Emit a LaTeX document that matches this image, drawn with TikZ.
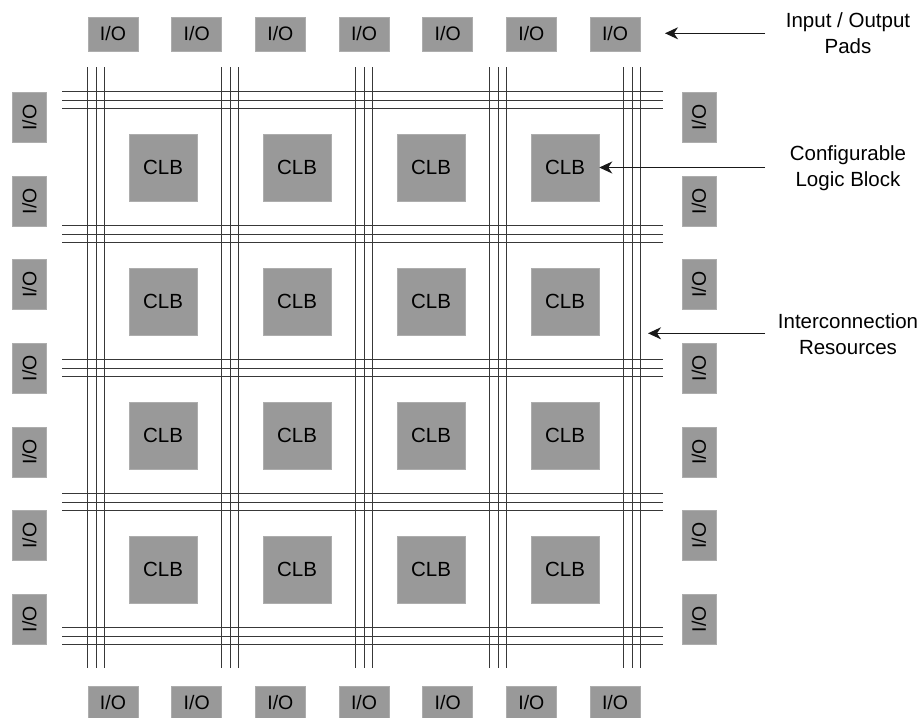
\documentclass[tikz,border=0pt]{standalone}
\usepackage{fontspec}
\setmainfont{Liberation Sans}
\usetikzlibrary{arrows.meta}
\definecolor{padgray}{HTML}{999999}
\definecolor{wirecol}{HTML}{383838}
\begin{document}
\begin{tikzpicture}[x=1pt,y=-1pt,
  pad/.style={fill=padgray, draw=padgray!80!white, line width=0.5pt,
    minimum width=50pt, minimum height=34pt, inner sep=0pt,
    font=\fontsize{19.5}{22}\selectfont},
  clb/.style={fill=padgray, draw=padgray!80!white, line width=0.5pt,
    minimum width=68pt, minimum height=67pt, inner sep=0pt,
    font=\fontsize{20.5}{22}\selectfont},
  wire/.style={draw=wirecol, line width=0.9pt},
  caption/.style={align=center, font=\fontsize{20.5}{25.5}\selectfont},
  pointer/.style={draw=black!90, line width=1.3pt,
    -{Stealth[length=13pt,width=12pt,inset=4pt]}}]

\useasboundingbox (0,0) rectangle (920,717);

% routing channels: three wires per channel
\foreach \k in {0,...,4}{
  \foreach \d in {-8.3,0,8.3}{
    \draw[wire] ({96+134*\k+\d},67) -- ({96+134*\k+\d},668);
    \draw[wire] (62,{100+134*\k+\d}) -- (663,{100+134*\k+\d});
  }
}

% configurable logic blocks
\foreach \i in {0,...,3}{
  \foreach \j in {0,...,3}{
    \node[clb] (clb-\i-\j) at ({163+134*\i},{167.5+134*\j}) {CLB};
  }
}

% I/O pads around the array
\foreach \i in {0,...,6}{
  \node[pad] (top-\i) at ({113+83.67*\i},34) {I/O};
  \node[pad] (bot-\i) at ({113+83.67*\i},703) {I/O};
  \node[pad, rotate=90] (left-\i) at (29.5,{117.5+83.6*\i}) {I/O};
  \node[pad, rotate=90] (right-\i) at (699,{117.5+83.6*\i}) {I/O};
}

% annotations
\node[caption] (lblio) at (848,33) {Input / Output\\Pads};
\node[caption] (lblclb) at (848,168) {Configurable\\Logic Block};
\node[caption] (lblic) at (848,334) {Interconnection\\Resources};

\coordinate (iotail) at (765,33.3);
\coordinate (iotip) at (665,33.3);
\coordinate (clbtail) at (765,167.5);
\coordinate (ictail) at (765,333.3);
\coordinate (ictip) at (648,333.3);

\draw[pointer] (iotail) -- (iotip);
\draw[pointer] (clbtail) -- (clb-3-0.east);
\draw[pointer] (ictail) -- (ictip);
\end{tikzpicture}
\end{document}
